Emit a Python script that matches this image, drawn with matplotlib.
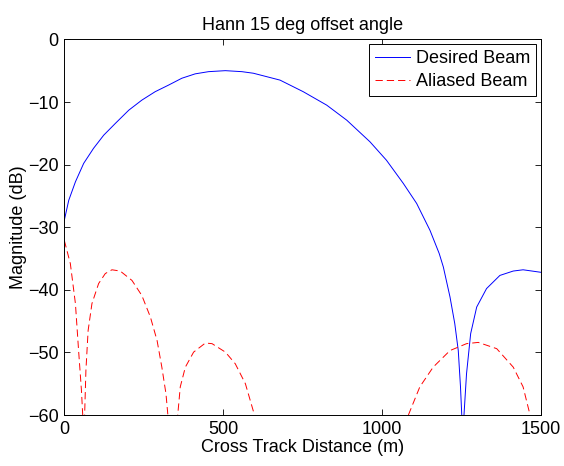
import numpy as np
import matplotlib
matplotlib.use("Agg")
import matplotlib.pyplot as plt

plt.rcParams['font.family'] = ['Liberation Sans', 'DejaVu Sans']

# desired beam (dB vs cross track metres)
desired_x = [0, 14, 35, 61, 92, 124, 161, 203, 244, 286, 328, 370, 412, 454,
             507, 559, 595, 679, 752, 826, 889, 962, 1014, 1067, 1109, 1151,
             1180, 1193, 1214, 1229, 1240, 1247, 1251, 1254.5, 1258, 1266,
             1279, 1298, 1329, 1371, 1413, 1444, 1500]
desired_db = [-28.9, -25.7, -22.75, -19.8, -17.4, -15.3, -13.4, -11.3, -9.7,
              -8.35, -7.3, -6.2, -5.5, -5.15, -4.99, -5.15, -5.4, -6.5, -8.35,
              -10.5, -12.9, -16.35, -19.3, -23.0, -26.2, -30.5, -34.2, -36.35,
              -41.15, -45.4, -49.7, -55.5, -60.0, -80.0, -60.0, -53.4, -47.0,
              -42.75, -39.8, -37.7, -37.0, -36.8, -37.2]

# aliased beam, nan where it is far below the axis
aliased_x = [0, 19, 35, 45, 54, 58, 61, 64, 68, 75, 87, 108, 129, 150, 176,
             213, 244, 271, 292, 307, 320, 326, 341, 357, 365, 381, 407, 444,
             465, 507, 538, 570, 596, 600, 603,
             1080, 1083, 1119, 1161, 1214, 1266, 1303, 1361, 1413, 1444, 1466,
             1470]
aliased_db = [-32.1, -35.8, -42.2, -49.7, -56.1, -60.0, -80.0, -60.0, -52.9,
              -46.5, -42.2, -39.0, -37.4, -36.8, -37.0, -38.5, -40.9, -44.35,
              -48.1, -52.35, -56.6, -60.0, -80.0, -60.0, -55.5, -52.35, -49.95,
              -48.5, -48.6, -49.95, -51.8, -55.0, -59.55, -60.0, np.nan,
              np.nan, -60.0, -55.5, -52.35, -49.7, -48.6, -48.4, -49.4, -52.35,
              -55.5, -60.0, -65.0]

xticks = [0, 500, 1000, 1500]
yticks = [-60, -50, -40, -30, -20, -10, 0]

fig = plt.figure(figsize=(5.64, 4.66), dpi=100)
ax = fig.add_axes([0.114, 0.1094, 0.845, 0.806])

ax.plot(desired_x, desired_db, color='#0000ff', lw=0.7, label='Desired Beam')
ax.plot(aliased_x, aliased_db, color='#ff0000', lw=0.7, ls=(0, (7.5, 4.1)),
        label='Aliased Beam')

ax.set_xlim(0, 1500)
ax.set_ylim(-60, 0)
ax.set_xticks(xticks)
ax.set_yticks(yticks)
ax.tick_params(direction='in', top=True, right=True, labelsize=13,
               length=4, width=0.6, pad=4)
for s in ax.spines.values():
    s.set_linewidth(0.7)

ax.set_title('Hann 15 deg offset angle', fontsize=13, pad=7)
ax.set_xlabel('Cross Track Distance (m)', fontsize=13, labelpad=1)
ax.set_ylabel('Magnitude (dB)', fontsize=13, labelpad=1)

leg = ax.legend(loc='upper right', fontsize=13, fancybox=False,
                framealpha=1, edgecolor='black', borderaxespad=0.28,
                handlelength=1.95, borderpad=0.33, labelspacing=0.3,
                handletextpad=0.3)
leg.get_frame().set_linewidth(0.7)

fig.savefig('out.png', dpi=100)
